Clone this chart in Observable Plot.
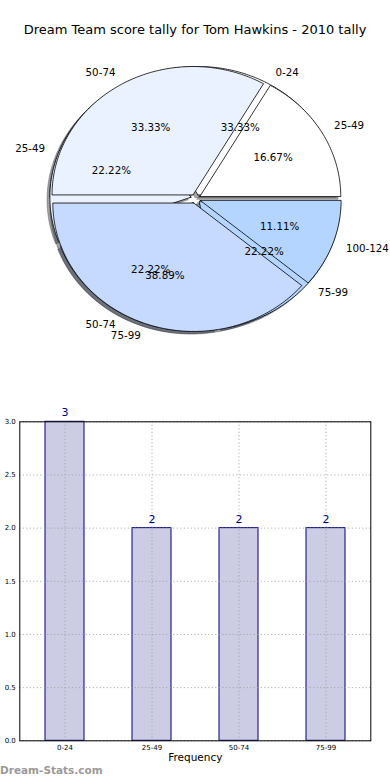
<!DOCTYPE html>
<html><head><meta charset="utf-8">
<script src="https://cdn.jsdelivr.net/npm/d3@7"></script>
<script src="https://cdn.jsdelivr.net/npm/@observablehq/plot@0.6"></script>
<style>
body{margin:0;background:#fff;font-family:"DejaVu Sans",sans-serif;}
#wrap{position:relative;width:390px;height:780px;overflow:hidden;background:#fff;}
#title{position:absolute;top:21px;left:0;width:390px;text-align:center;font-size:13px;line-height:18px;color:#000;}
#pie{position:absolute;top:50px;left:0;}
#bar{position:absolute;top:380px;left:0;}
#wm{position:absolute;left:0;top:762px;font-size:10.5px;line-height:16px;font-weight:bold;color:#9a9a9a;}
</style></head>
<body><div id="wrap"><div id="title"></div><div id="pie"></div><div id="bar"></div><div id="wm">Dream-Stats.com</div></div>
<script>
const titleText = "Dream Team score tally for Tom Hawkins - 2010 tally";
const pie1Labels = ["0-24", "25-49", "50-74", "75-99"];
const pie1Values = [3, 2, 2, 2];
const pie2Labels = ["25-49", "50-74", "75-99", "100-124"];
const pie2Values = [3, 6, 7, 2];
const wedgeColors = ["#ffffff", "#eaf1ff", "#c6d9ff", "#b3d5ff"];
const barCats = ["0-24", "25-49", "50-74", "75-99"];
const barValues = [3, 2, 2, 2];
const yTicks = [0, 0.5, 1, 1.5, 2, 2.5, 3];

document.getElementById("title").textContent = titleText;

const EXPLODE = 0.035, SHADOW = 0.02;
function wedges(pieId, labels, values) {
  const total = d3.sum(values);
  let a0 = 0;
  return values.map((v, i) => {
    const a1 = a0 + v / total * 2 * Math.PI;
    const mid = (a0 + a1) / 2;
    const w = {pie: pieId, i, label: labels[i], pct: (v / total * 100).toFixed(2) + "%", a0, a1, mid,
      ox: EXPLODE * Math.cos(mid), oy: EXPLODE * Math.sin(mid), fill: wedgeColors[i % wedgeColors.length]};
    a0 = a1;
    return w;
  });
}
function polygon(w, dx, dy) {
  const cx = w.ox + dx, cy = w.oy + dy;
  const pts = [{x: cx, y: cy}];
  const n = Math.max(2, Math.ceil((w.a1 - w.a0) / (Math.PI / 180)));
  for (let k = 0; k <= n; k++) {
    const a = w.a0 + (w.a1 - w.a0) * k / n;
    pts.push({x: cx + Math.cos(a), y: cy + Math.sin(a)});
  }
  pts.push({x: cx, y: cy});
  return pts;
}
const w1 = wedges(1, pie1Labels, pie1Values);
const w2 = wedges(2, pie2Labels, pie2Values);
const all = [...w1, ...w2];

const shadowMarks = all.map(w => {
  const c = d3.rgb(w.fill);
  const sc = d3.rgb(c.r * 0.3, c.g * 0.3, c.b * 0.3).toString();
  return Plot.line(polygon(w, -SHADOW, -SHADOW), {x: "x", y: "y", fill: sc, fillOpacity: 0.5, stroke: sc, strokeOpacity: 0.5, strokeWidth: 0.8});
});
const wedgeMarks = all.map(w => Plot.line(polygon(w, 0, 0), {x: "x", y: "y", fill: w.fill, stroke: "black", strokeWidth: 0.8}));
const textMarks = [1, 2].flatMap(p => {
  const ws = all.filter(w => w.pie === p);
  return [
    Plot.text(ws.filter(w => Math.cos(w.mid) > 0), {x: w => w.ox + 1.1 * Math.cos(w.mid), y: w => w.oy + 1.1 * Math.sin(w.mid), text: "label", textAnchor: "start", fontSize: 10.3, fill: "black"}),
    Plot.text(ws.filter(w => Math.cos(w.mid) <= 0), {x: w => w.ox + 1.1 * Math.cos(w.mid), y: w => w.oy + 1.1 * Math.sin(w.mid), text: "label", textAnchor: "end", fontSize: 10.3, fill: "black"}),
    Plot.text(ws, {x: w => w.ox + 0.6 * Math.cos(w.mid), y: w => w.oy + 0.6 * Math.sin(w.mid), text: "pct", textAnchor: "middle", fontSize: 10.3, fill: "black"})
  ];
});

const pie = Plot.plot({
  width: 390, height: 320,
  marginTop: 0, marginBottom: 0, marginLeft: 0, marginRight: 0,
  x: {domain: [-1.383, 1.383], axis: null},
  y: {domain: [-1.337, 1.155], axis: null},
  style: {fontFamily: "DejaVu Sans", background: "transparent"},
  marks: [...shadowMarks, ...wedgeMarks, ...textMarks]
});
document.getElementById("pie").appendChild(pie);

const barData = barCats.map((c, i) => ({cat: c, value: barValues[i]}));
const bar = Plot.plot({
  width: 390, height: 390,
  marginTop: 41.3, marginBottom: 29.7, marginLeft: 19.3, marginRight: 19.7,
  x: {domain: barCats, paddingInner: 0.55, paddingOuter: 0.275},
  y: {domain: [0, 3]},
  style: {fontFamily: "DejaVu Sans", background: "transparent"},
  marks: [
    Plot.barY(barData, {x: "cat", y: "value", fill: "#ccccE4", stroke: "#00007a", strokeWidth: 1}),
    Plot.ruleY(yTicks, {stroke: "#a0a0a0", strokeDasharray: "1,2.5"}),
    Plot.ruleX(barCats, {stroke: "#a0a0a0", strokeDasharray: "1,2.5"}),
    Plot.frame({stroke: "black", strokeWidth: 1}),
    Plot.text(barData, {x: "cat", y: "value", text: d => String(d.value), dy: -9, fill: "#000080", fontSize: 11}),
    Plot.axisY({ticks: yTicks, tickFormat: d3.format(".1f"), tickSize: 0, tickPadding: 4, fontSize: 7, label: null}),
    Plot.axisX({tickSize: 0, tickPadding: 4, fontSize: 7, label: null}),
    Plot.text(["Frequency"], {frameAnchor: "bottom", dy: 20, fontSize: 10.5, fill: "black"})
  ]
});
document.getElementById("bar").appendChild(bar);
</script>
</body></html>
